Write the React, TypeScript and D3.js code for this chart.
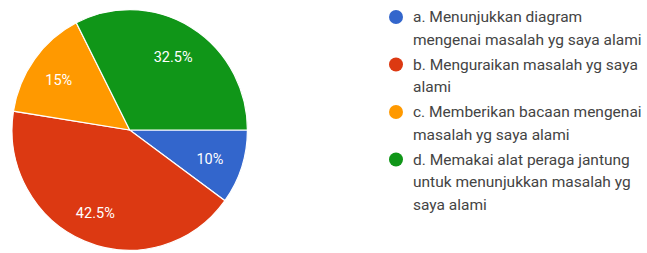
import React from "react";
import * as d3 from "d3";

const categories = [
  "a. Menunjukkan diagram mengenai masalah yg saya alami",
  "b. Menguraikan masalah yg saya alami",
  "c. Memberikan bacaan mengenai masalah yg saya alami",
  "d. Memakai alat peraga jantung untuk menunjukkan masalah yg saya alami",
];
const values = [10, 42.5, 15, 32.5];
const labels = ["10%", "42.5%", "15%", "32.5%"];
const colors = ["#3366cc", "#dc3912", "#ff9900", "#109618"];
const legendLines = [
  ["a. Menunjukkan diagram", "mengenai masalah yg saya alami"],
  ["b. Menguraikan masalah yg saya", "alami"],
  ["c. Memberikan bacaan mengenai", "masalah yg saya alami"],
  ["d. Memakai alat peraga jantung", "untuk menunjukkan masalah yg", "saya alami"],
];

export default function App() {
  const W = 647, H = 253;
  const cx = 129.7, cy = 130, R = 117.7, sy = 1.022;
  const pie = d3
    .pie<number>()
    .sort(null)
    .startAngle(Math.PI / 2)
    .endAngle(Math.PI / 2 + 2 * Math.PI)
    .value((d) => d);
  const arcs = pie(values);
  const arc = d3.arc<d3.PieArcDatum<number>>().innerRadius(0).outerRadius(R);
  const labelArc = d3.arc<d3.PieArcDatum<number>>().innerRadius(R * 0.73).outerRadius(R * 0.73);

  const lineH = 22.5;
  const gap = 2.5;
  let y = 17;
  const legendItems = legendLines.map((lines, i) => {
    const y0 = y;
    y += lines.length * lineH + gap;
    return { lines, y0, i };
  });

  return (
    <svg width={W} height={H} style={{ position: "absolute", left: 0, top: 0, background: "#fff" }}
      fontFamily="Roboto, Arial, sans-serif">
      <g transform={`translate(${cx},${cy}) scale(1,${sy})`}>
        {arcs.map((a, i) => (
          <path key={i} d={arc(a) || ""} fill={colors[i]} stroke="#fff" strokeWidth={1.2} />
        ))}
      </g>
      <g transform={`translate(${cx - 1.5},${cy + 2.5})`}>
        {arcs.map((a, i) => {
          const [x, yy] = labelArc.centroid(a);
          return (
            <text key={i} x={x} y={yy * sy} fill="#fff" fontSize={14.5} textAnchor="middle" dominantBaseline="central">
              {labels[i]}
            </text>
          );
        })}
      </g>
      {legendItems.map(({ lines, y0, i }) => (
        <g key={i}>
          <title>{categories[i]}</title>
          <circle cx={396} cy={y0} r={7} fill={colors[i]} />
          {lines.map((l, j) => (
            <text key={j} x={413} y={y0 + j * lineH} fontSize={15.5} fill="#444" dominantBaseline="central">
              {l}
            </text>
          ))}
        </g>
      ))}
    </svg>
  );
}
